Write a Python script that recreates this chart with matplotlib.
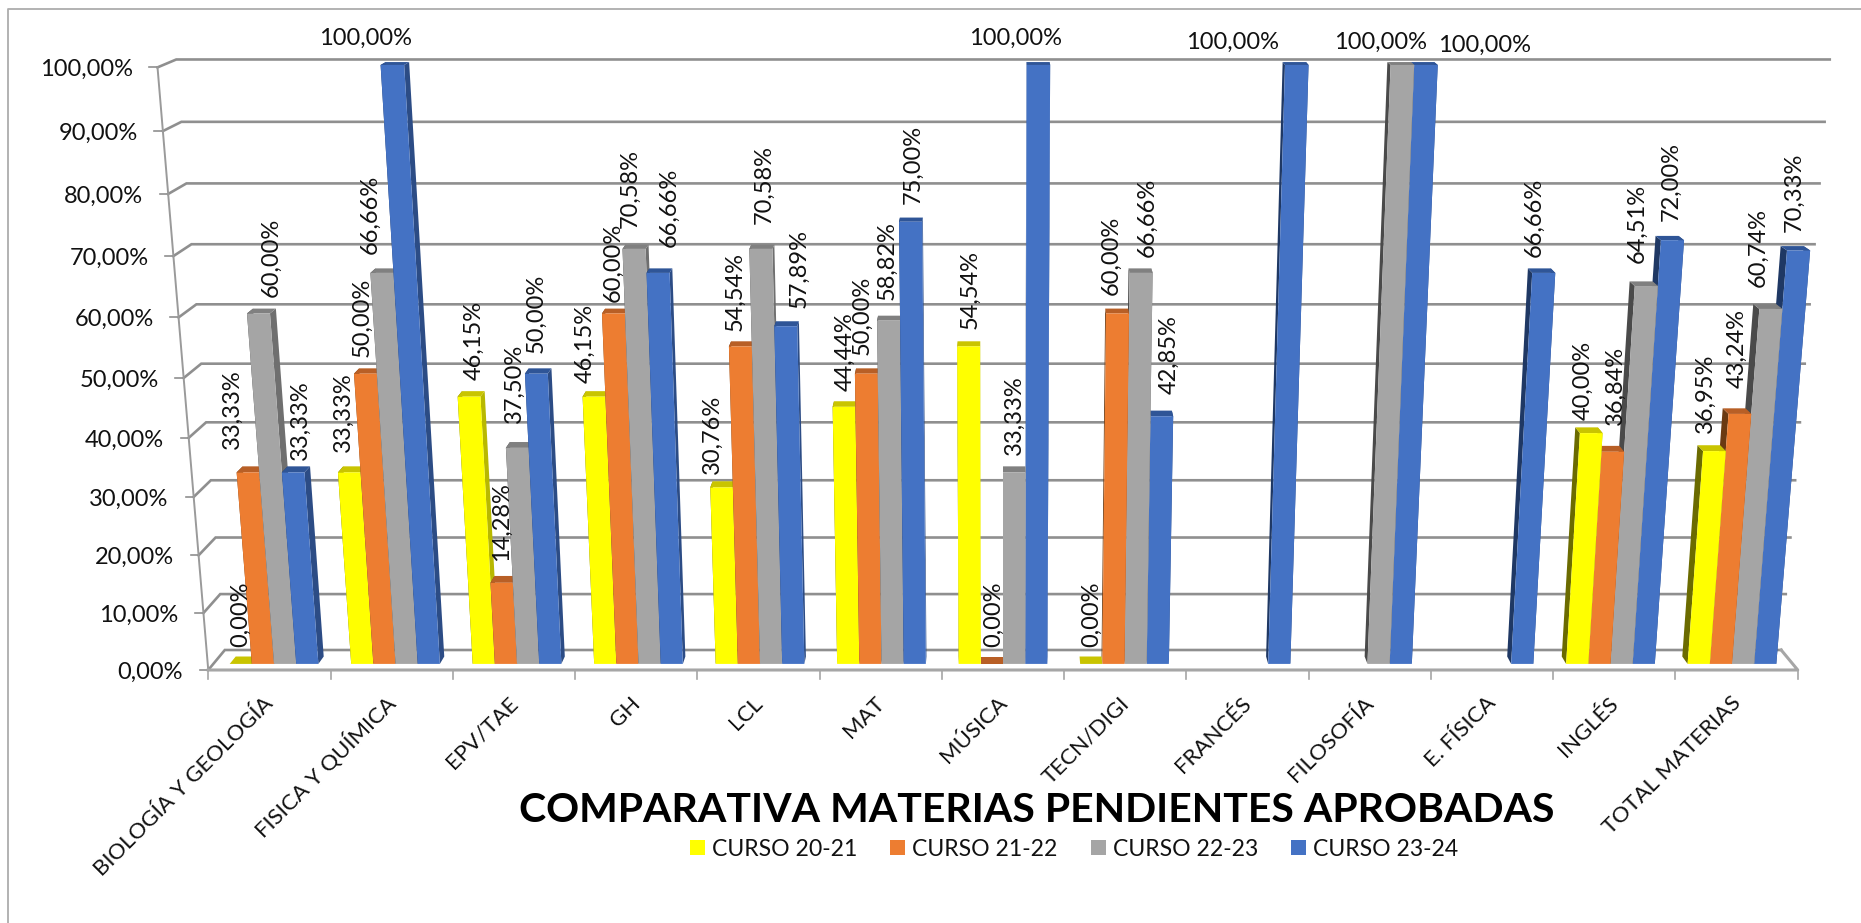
import matplotlib
matplotlib.use("Agg")
import matplotlib.pyplot as plt
from matplotlib.patches import Patch

plt.rcParams['font.family'] = ['Lato', 'DejaVu Sans']

# categories and series, in percent (None = no bar in the original)
materias = ["BIOLOGÍA Y GEOLOGÍA", "FISICA Y QUÍMICA", "EPV/TAE", "GH", "LCL", "MAT", "MÚSICA",
            "TECN/DIGI", "FRANCÉS", "FILOSOFÍA", "E. FÍSICA", "INGLÉS", "TOTAL MATERIAS"]
curso_20_21 = [0, 33.33, 46.15, 46.15, 30.76, 44.44, 54.54, 0, None, None, None, 40.00, 36.95]
curso_21_22 = [33.33, 50.00, 14.28, 60.00, 54.54, 50.00, 0, 60.00, None, None, None, 36.84, 43.24]
curso_22_23 = [60.00, 66.66, 37.50, 70.58, 70.58, 58.82, 33.33, 66.66, None, 100.00, None, 64.51, 60.74]
curso_23_24 = [33.33, 100.00, 50.00, 66.66, 57.89, 75.00, 100.00, 42.85, 100.00, 100.00, 66.66, 72.00, 70.33]
series_names = ["CURSO 20-21", "CURSO 21-22", "CURSO 22-23", "CURSO 23-24"]
y_ticks = [0, 10, 20, 30, 40, 50, 60, 70, 80, 90, 100]

series = [curso_20_21, curso_21_22, curso_22_23, curso_23_24]

# front, top, right side, left side
colors = [("#FFFF00", "#C9C400", "#B8B800", "#6B6B00"),
          ("#ED7D31", "#B85F26", "#A85520", "#6B3A12"),
          ("#A5A5A5", "#808080", "#6F6F6F", "#4A4A4A"),
          ("#4472C4", "#2F5597", "#2C4C85", "#1F3864")]

# where the data labels sit: centre x, bottom y in pixels
label_pos = [
    [(241, 647), (343, 452), (474, 380), (585, 383), (712, 474), (845, 391), (970, 329), (1092, 647),
     None, None, None, (1583, 420), (1705, 433)],
    [(232, 449), (362, 357), (501, 561), (613, 302), (735, 331), (862, 355), (994, 647), (1111, 295),
     None, None, None, (1615, 425), (1737, 388)],
    [(271, 297), (370, 254), (514, 423), (630, 228), (764, 224), (887, 300), (1014, 455), (1147, 257),
     None, (1381, 42), None, (1637, 263), (1758, 287)],
    [(300, 460), (366, 38), (536, 353), (669, 247), (799, 308), (913, 204), (1016, 38), (1169, 394),
     (1233, 42), (1485, 45), (1534, 257), (1671, 221), (1794, 232)],
]

BAR_GAP = 0.135
BAR_W = 0.1825
D1, D2 = 0.30, 0.67
GRID = "#8F8F8F"
TXT = 17


def project(u, v, d):
    '''
    perspective of the excel 3d box: u category position, v percent, d depth (0 front, 1 back)
    '''
    v = v / 100.0
    w = 1 - 0.06 * v + 0.0213 * d
    x = 1003 + (u - 6.5) * 122.27 / w
    y = -289 - (624 * v - 959) / w
    return x, y


def face(ax, pts, color, z):
    xs, ys = zip(*[project(*p) for p in pts])
    ax.fill(xs, ys, color=color, lw=0, zorder=z)


def draw_bar(ax, u0, u1, val, col, z):
    front, top, right, left = col
    face(ax, [(u1, 0, D1), (u1, 0, D2), (u1, val, D2), (u1, val, D1)], right, z)
    face(ax, [(u0, 0, D1), (u0, 0, D2), (u0, val, D2), (u0, val, D1)], left, z)
    face(ax, [(u0, val, D1), (u1, val, D1), (u1, val, D2), (u0, val, D2)], top, z + 0.1)
    if val > 0:
        face(ax, [(u0, 0, D1), (u1, 0, D1), (u1, val, D1), (u0, val, D1)], front, z + 0.2)


def fmt(v):
    return "{:.2f}%".format(v).replace(".", ",")


def main():
    fig = plt.figure(figsize=(18.61, 9.23), dpi=100)
    ax = fig.add_axes([0, 0, 1, 1])
    ax.set_xlim(0, 1861)
    ax.set_ylim(923, 0)
    ax.axis("off")

    # frame of the chart area
    ax.plot([8, 8, 1861], [923, 8.5, 8.5], color="#ADADAD", lw=1.3, zorder=1)

    n = len(materias)

    # walls
    for t in y_ticks:
        x0, y0 = project(0, t, 0)
        x1, y1 = project(0, t, 1)
        x2, y2 = project(n, t, 1)
        ax.plot([x0, x1, x2], [y0, y1, y2], color=GRID, lw=1.9, zorder=2, solid_joinstyle="miter")
        xt, yt = project(-0.065, t, 0)
        ax.plot([xt, x0], [yt, y0], color=GRID, lw=1.2, zorder=2)
        ax.text(x0 - 25, y0 + 2, fmt(t), ha="right", va="center", fontsize=TXT, color="#111111")

    x0, y0 = project(0, 0, 0)
    x1, y1 = project(0, 100, 0)
    ax.plot([x0, x1], [y0, y1], color="#9A9A9A", lw=1.4, zorder=2)

    # floor
    xa, ya = project(n, 0, 1)
    xb, yb = project(n, 0, 0)
    ax.plot([xa, xb, x0], [ya, yb, y0], color="#A6A6A6", lw=2.2, zorder=2)

    for i in range(n + 1):
        xt, yt = project(i, 0, 0)
        ax.plot([xt, xt], [yt, yt + 9], color="#A6A6A6", lw=1.2, zorder=2)

    # bars from the outside in, so the nearer side panels cover the right way
    order = sorted(range(n), key=lambda i: -abs(i + 0.5 - n / 2.0))
    z = 3
    for i in order:
        idx = range(4) if i + 0.5 < n / 2.0 else range(3, -1, -1)
        for s in idx:
            val = series[s][i]
            if val is None:
                continue
            u0 = i + BAR_GAP + s * BAR_W
            draw_bar(ax, u0, u0 + BAR_W, val, colors[s], z)
            z += 1

    # data labels
    for s in range(4):
        for i in range(n):
            val = series[s][i]
            if val is None:
                continue
            px, py = label_pos[s][i]
            if val == 100:
                ax.text(px, py, fmt(val), ha="center", va="center", fontsize=TXT,
                        color="#111111", zorder=500)
            else:
                ax.text(px, py, fmt(val), ha="center", va="bottom", rotation=90, fontsize=TXT,
                        color="#111111", zorder=500)

    # category names
    for i, name in enumerate(materias):
        xc, yc = project(i + 0.5, 0, 0)
        ax.text(xc + 1, yc + 30, name, ha="right", va="center", rotation=45, rotation_mode="anchor",
                fontsize=16, color="#111111", zorder=500)

    ax.text(1037, 810, "COMPARATIVA MATERIAS PENDIENTES APROBADAS", ha="center", va="center",
            fontsize=29.5, fontweight="bold", color="black", zorder=500)

    handles = [Patch(facecolor=colors[s][0], edgecolor="none", label=series_names[s]) for s in range(4)]
    fig.legend(handles=handles, ncol=4, frameon=False, fontsize=16.6, loc="center",
               bbox_to_anchor=(1074 / 1861.0, 1 - 849 / 923.0), handlelength=0.65, handleheight=0.65,
               handletextpad=0.3, columnspacing=1.43, borderpad=0, labelcolor="#111111")

    fig.savefig("out.png", dpi=100, facecolor="white")


if __name__ == "__main__":
    main()
